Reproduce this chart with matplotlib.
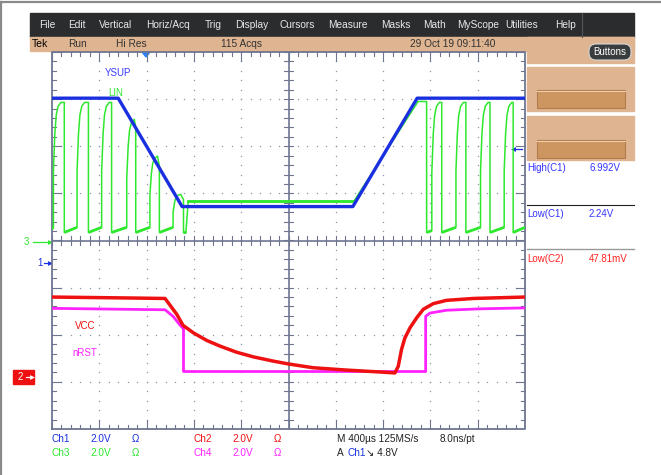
import numpy as np
import matplotlib
matplotlib.use("Agg")
import matplotlib.pyplot as plt
from matplotlib.patches import Rectangle, FancyBboxPatch, Polygon

plt.rcParams['font.family'] = ['Liberation Sans', 'DejaVu Sans']

# ---- trace data, in screen divisions (x: 0..10, y: -4..4) ----
# YSUP (Ch1, blue)
ysup_t = [0.0, 1.40, 2.75, 6.36, 7.72, 10.0]
ysup_v = [3.02, 3.02, 0.72, 0.72, 3.02, 3.02]

# LIN (Ch3, green) pulse edges and levels
lin_rise_t = [0.03, 0.53, 1.05, 1.58, 2.07, 2.56]
lin_fall_t = [0.26, 0.77, 1.26, 1.77, 2.27, 2.78]
lin_high_start = [2.93, 2.93, 2.93, 2.57, 1.79, 0.98]
lin_high_end = [2.93, 2.93, 2.93, 2.40, 1.58, 0.87]
lin_mid_t = [2.83, 2.88, 6.38, 7.74, 7.92]      # flat section and ramp back up
lin_mid_v = [0.17, 0.83, 0.83, 2.95, 2.95]
lin_rise2_t = [8.03, 8.54, 9.06, 9.56]
lin_fall2_t = [8.24, 8.75, 9.26, 9.75]
lin_low = (0.17, 0.28)
# shape of a LIN rising edge (time offset, fraction of swing)
lin_rise_dt = [0.0, 0.0, 0.03, 0.06, 0.10, 0.16]
lin_rise_frac = [0.0, 0.45, 0.75, 0.90, 0.97, 1.0]

# VCC (Ch2, red)
vcc_t = [0.0, 1.65, 2.39, 2.64, 2.77, 2.99, 3.27, 3.55, 3.90, 4.26, 4.68, 5.0,
         5.52, 6.23, 6.93, 7.25, 7.32, 7.39, 7.46, 7.57, 7.71, 7.85, 8.06, 8.34,
         8.91, 10.0]
vcc_v = [-1.20, -1.22, -1.23, -1.57, -1.80, -1.96, -2.12, -2.24, -2.37, -2.47,
         -2.56, -2.62, -2.70, -2.75, -2.79, -2.81, -2.67, -2.31, -2.07, -1.85,
         -1.64, -1.46, -1.34, -1.27, -1.23, -1.20]

# nRST (Ch4, magenta)
nrst_t = [0.0, 2.39, 2.56, 2.71, 2.78, 2.78, 7.90, 7.90, 7.99, 8.34, 9.05, 10.0]
nrst_v = [-1.44, -1.47, -1.61, -1.80, -1.87, -2.78, -2.78, -1.61, -1.54, -1.48,
          -1.45, -1.43]

menu_items = ["File", "Edit", "Vertical", "Horiz/Acq", "Trig", "Display",
              "Cursors", "Measure", "Masks", "Math", "MyScope", "Utilities", "Help"]
menu_x = [39, 68, 99, 146, 205, 235, 279, 328, 381, 423, 457, 505, 555]

meas_names = ["High(C1)", "Low(C1)", "Low(C2)"]
meas_values = ["6.992V", "2.24V", "47.81mV"]

BLUE = '#1a2fe0'
GREEN = '#2ee82e'
RED = '#ee1111'
MAG = '#ff22ff'
GRAT = '#6e7591'
TAN = '#dfb491'


def lin_trace():
    """build the LIN polyline from the edge lists; also return the low stretches"""
    t, v, lows = [], [], []
    low0, low1 = lin_low
    t.append(0.0)
    v.append(low0 + 0.08)
    for r, f, hs, he in zip(lin_rise_t, lin_fall_t, lin_high_start, lin_high_end):
        lows.append(([t[-1], r], [v[-1], low1]))
        for dt, fr in zip(lin_rise_dt, lin_rise_frac):
            t.append(r + dt)
            v.append(low1 + fr * (hs - low1))
        t += [f, f]
        v += [he, low0]
    t += lin_mid_t
    v += lin_mid_v
    lows.append(([lin_fall_t[-1], lin_mid_t[0]], [low0, low0]))
    t.append(lin_mid_t[-1])
    v.append(low0)
    for r, f in zip(lin_rise2_t, lin_fall2_t):
        start = low1 if r - t[-1] > 0.2 else low0 + 0.04
        lows.append(([t[-1], r], [low0, start]))
        for dt, fr in zip(lin_rise_dt, lin_rise_frac):
            t.append(r + dt)
            v.append(start + fr * (2.93 - start))
        t += [f, f]
        v += [2.93, low0]
    lows.append(([t[-1], 10.0], [low0, low1]))
    t.append(10.0)
    v.append(low1)
    return t, v, lows


def arrow(a, x0, x1, y, color, right=True):
    a.plot([x0, x1], [y, y], color=color, lw=0.9)
    a.plot([x1 if right else x0], [y], marker='>' if right else '<', ms=3.5,
           color=color, mec='none')


fig = plt.figure(figsize=(6.61, 4.75), dpi=100)
fig.patch.set_facecolor('white')

# overlay in pixel coordinates for the instrument chrome
ax0 = fig.add_axes([0, 0, 1, 1])
ax0.set_xlim(0, 661)
ax0.set_ylim(475, 0)
ax0.axis('off')

ax0.plot([0, 661], [2, 2], color='#8a8a8a', lw=1.6)
ax0.plot([0.8, 0.8], [2, 475], color='#8a8a8a', lw=1.6)

# menu bar and status bar
ax0.add_patch(Rectangle((30, 13), 604, 24, color='#2b2c2e'))
ax0.plot([582, 582], [13, 37], color='#555555', lw=0.8)
for name, x in zip(menu_items, menu_x):
    ax0.text(x, 25, name, color='#e8e8e8', fontsize=7.3, va='center', ha='left')
ax0.add_patch(Rectangle((30, 37), 604, 14, color=TAN))
ax0.text(32, 44, "Tek", fontsize=7.5, va='center')
ax0.text(68, 44, "Run", fontsize=7.3, va='center', color='#333333')
ax0.text(116, 44, "Hi Res", fontsize=7.3, va='center', color='#333333')
ax0.text(221, 44, "115 Acqs", fontsize=7.3, va='center', color='#333333')
ax0.text(410, 44, "29 Oct 19 09:11:40", fontsize=7.3, va='center', color='#333333')

# right side panel
ax0.add_patch(Rectangle((527, 37), 107, 26, color=TAN))
ax0.add_patch(FancyBboxPatch((589, 44), 42, 16, boxstyle="round,pad=0,rounding_size=7",
                             fc='#3a3d3d', ec='#d8d8d8', lw=0.8))
ax0.text(610, 52, "Buttons", color='white', fontsize=7, ha='center', va='center')
for y0, y1, by in [(67, 111, 90), (116, 160, 140)]:
    ax0.add_patch(Rectangle((527, y0), 107, y1 - y0, color=TAN))
    ax0.add_patch(Rectangle((537, by), 88, 18, fc='#cd955f', ec='#b07c4c', lw=0.8))
    ax0.plot([537, 625], [by + 0.6, by + 0.6], color='#f0d0b0', lw=0.8)

# measurements
meas_y = [168, 214, 259]
meas_col = ['#3535ff', '#3535ff', '#ff2020']
for name, val, y, c in zip(meas_names, meas_values, meas_y, meas_col):
    ax0.text(527, y, name, color=c, fontsize=7, va='center')
    ax0.text(589, y, val, color=c, fontsize=7, va='center')
ax0.plot([527, 634], [205, 205], color='#222222', lw=0.8)
ax0.plot([527, 634], [249, 249], color='#999999', lw=1.0)

# channel ground markers
ax0.text(26, 242, "3", color=GREEN, fontsize=7, ha='center', va='center')
arrow(ax0, 33, 50, 242, GREEN)
ax0.text(40, 263, "1", color=BLUE, fontsize=7, ha='center', va='center')
arrow(ax0, 44, 50, 263, BLUE)
ax0.add_patch(Rectangle((13, 370), 21, 14, color='#ee1111'))
ax0.text(20, 377, "2", color='white', fontsize=7, ha='center', va='center')
arrow(ax0, 26, 32, 377, 'white')
# trigger level and position
arrow(ax0, 513, 522, 149, BLUE, right=False)
ax0.add_patch(Polygon([[142, 52], [150, 52], [146, 57]], closed=True, color='#2a7fff'))

# trace labels
ax0.text(105, 73, "YSUP", color='#3a3aff', fontsize=7, va='center')
ax0.text(108, 93, "LIN", color=GREEN, fontsize=7, va='center')
ax0.text(75, 326, "VCC", color=RED, fontsize=7, va='center')
ax0.text(72, 353, "nRST", color=MAG, fontsize=7, va='center')

# bottom readout
rows = [(439, [("Ch1", 52, BLUE), ("2.0V", 90, BLUE), ("Ω", 132, BLUE),
               ("Ch2", 194, RED), ("2.0V", 232, RED), ("Ω", 274, RED),
               ("M 400µs 125MS/s", 337, '#222222'), ("8.0ns/pt", 440, '#222222')]),
        (453, [("Ch3", 52, GREEN), ("2.0V", 90, GREEN), ("Ω", 132, GREEN),
               ("Ch4", 194, MAG), ("2.0V", 232, MAG), ("Ω", 274, MAG),
               ("A", 337, '#222222'), ("Ch1", 348, BLUE), ("↘ 4.8V", 366, '#222222')])]
for y, items in rows:
    for s, x, c in items:
        ax0.text(x, y, s, color=c, fontsize=7.2, va='center')

# ---- graticule ----
ax = fig.add_axes([52 / 661, 1 - 429 / 475, 473 / 661, 377 / 475])
ax.set_xlim(0, 10)
ax.set_ylim(-4, 4)
ax.axis('off')
ax.patch.set_alpha(0)

minor_x = np.arange(0, 10.01, 0.2)
minor_y = np.arange(-4, 4.01, 0.2)
for i in range(1, 10):
    if i != 5:
        ax.plot(np.full_like(minor_y, i), minor_y, ls='none', marker='s', ms=0.9,
                mec='none', mfc='#8c93ab')
for j in range(-3, 4):
    if j != 0:
        ax.plot(minor_x, np.full_like(minor_x, j), ls='none', marker='s', ms=0.9,
                mec='none', mfc='#8c93ab')

ax.plot([0, 10, 10, 0, 0], [-4, -4, 4, 4, -4], color=GRAT, lw=1.3, clip_on=False)
ax.plot([5, 5], [-4, 4], color=GRAT, lw=1.2)
ax.plot([0, 10], [0, 0], color=GRAT, lw=1.2)
tx, ty = 0.085, 0.085   # tick length in divisions (~4 px)
for x in minor_x:
    major = abs(x - round(x)) < 1e-6
    L = 2.3 * ty if major else ty
    ax.plot([x, x], [4, 4 - L], color=GRAT, lw=0.8)
    ax.plot([x, x], [-4, -4 + L], color=GRAT, lw=0.8)
    ax.plot([x, x], [-ty, ty], color=GRAT, lw=0.8)
for y in minor_y:
    major = abs(y - round(y)) < 1e-6
    L = 2.3 * tx if major else tx
    ax.plot([0, L], [y, y], color=GRAT, lw=0.8)
    ax.plot([10, 10 - L], [y, y], color=GRAT, lw=0.8)
    ax.plot([5 - tx, 5 + tx], [y, y], color=GRAT, lw=0.8)

lt, lv, lin_lows = lin_trace()
ax.plot(lt, lv, color=GREEN, lw=1.1, zorder=3)
for st, sv in lin_lows:
    ax.plot(st, sv, color=GREEN, lw=2.0, zorder=3, solid_capstyle='butt')
ax.plot(lin_mid_t[1:3], lin_mid_v[1:3], color=GREEN, lw=2.0, zorder=3)
ax.plot(ysup_t, ysup_v, color=BLUE, lw=2.4, zorder=4, solid_joinstyle='round')
ax.plot(nrst_t, nrst_v, color=MAG, lw=2.0, zorder=3)
ax.plot(vcc_t, vcc_v, color=RED, lw=2.5, zorder=4)

fig.savefig("out.png", dpi=100)
